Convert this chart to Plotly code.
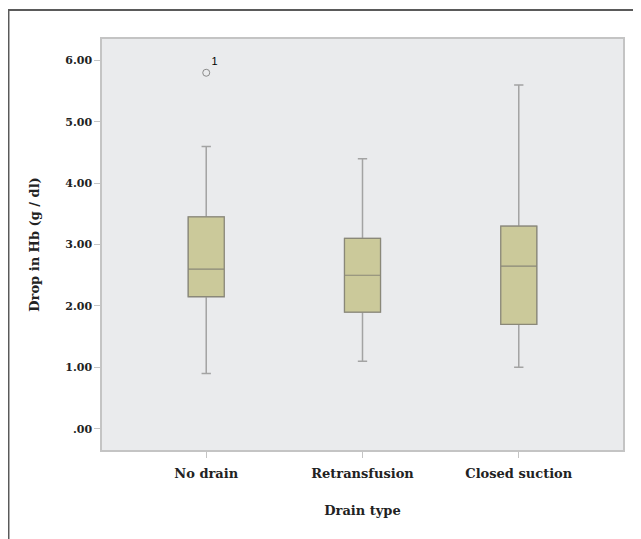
import plotly.graph_objects as go

categories = ["No drain", "Retransfusion", "Closed suction"]
lower_whisker = [0.9, 1.1, 1.0]
q1_vals = [2.15, 1.9, 1.7]
median_vals = [2.6, 2.5, 2.65]
q3_vals = [3.45, 3.1, 3.3]
upper_whisker = [4.6, 4.4, 5.6]
outlier_cat = ["No drain"]
outlier_val = [5.8]
outlier_label = ["1"]
y_tick_vals = [0, 1, 2, 3, 4, 5, 6]
y_tick_text = [".00", "1.00", "2.00", "3.00", "4.00", "5.00", "6.00"]

fig = go.Figure()

# whiskers (light gray)
fig.add_trace(go.Box(
    x=categories, q1=q1_vals, median=median_vals, q3=q3_vals,
    lowerfence=lower_whisker, upperfence=upper_whisker,
    width=0.23, whiskerwidth=0.26,
    fillcolor="#cbc99a", line=dict(color="#a3a3a3", width=1.5),
    boxpoints=False, hoverinfo="skip", showlegend=False,
))
# box body (darker outline)
fig.add_trace(go.Box(
    x=categories, q1=q1_vals, median=median_vals, q3=q3_vals,
    lowerfence=q1_vals, upperfence=q3_vals,
    width=0.23, whiskerwidth=0,
    fillcolor="#cbc99a", line=dict(color="#8a8878", width=1.2),
    boxpoints=False, showlegend=False,
))
fig.add_trace(go.Scatter(
    x=outlier_cat, y=outlier_val, mode="markers+text",
    text=outlier_label, textposition="top right",
    textfont=dict(family="Liberation Sans", size=11, color="#000000"),
    marker=dict(symbol="circle-open", size=7, color="#8a8a8a", line=dict(width=1)),
    showlegend=False,
))

axis_font = dict(family="DejaVu Serif", size=13, color="#222", weight="bold")

fig.update_layout(
    width=633, height=531,
    margin=dict(l=94, r=18, t=31, b=89),
    paper_bgcolor="white", plot_bgcolor="#eaebed",
    boxmode="overlay",
    xaxis=dict(
        range=[-0.667, 2.667], showgrid=False, zeroline=False,
        showline=True, mirror=True, linecolor="#c4c4c4", linewidth=1.5,
        ticks="outside", ticklen=6, tickcolor="#c4c4c4",
        ticklabelstandoff=5,
        tickfont=axis_font,
        title=dict(text="Drain type", font=axis_font, standoff=26),
    ),
    yaxis=dict(
        range=[-0.348, 6.35], showgrid=False, zeroline=False,
        showline=True, mirror=True, linecolor="#c4c4c4", linewidth=1.5,
        ticks="outside", ticklen=6, tickcolor="#c4c4c4",
        tickvals=y_tick_vals, ticktext=y_tick_text,
        tickfont=dict(family="DejaVu Serif", size=11, color="#222", weight="bold"),
        title=dict(text="Drop in Hb (g / dl)", font=axis_font, standoff=23),
    ),
    shapes=[dict(
        type="rect", xref="paper", yref="paper",
        x0=-0.1795, x1=1.2, y0=-0.4, y1=1.0706,
        line=dict(color="#5a5a5a", width=2), fillcolor="rgba(0,0,0,0)",
        layer="below",
    )],
)

fig.write_html("out.html")
